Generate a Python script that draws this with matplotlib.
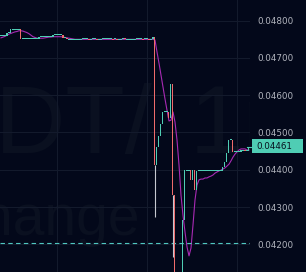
import matplotlib
matplotlib.use('Agg')
import matplotlib.pyplot as plt
from matplotlib.patches import Rectangle

# candle closes, open of each candle = previous close
first_open = 0.04759
closes = [
    0.04759, 0.04759, 0.04759, 0.04767, 0.04767, 0.04777, 0.04777, 0.04777, 0.04777, 0.04777,
    0.04752, 0.04752, 0.04752, 0.04752, 0.04752, 0.04752, 0.04752, 0.04752, 0.04752, 0.04757,
    0.04757, 0.04757, 0.04757, 0.04757, 0.04757, 0.04757, 0.04762, 0.04762, 0.04762, 0.04762,
    0.04762, 0.04754, 0.04754, 0.04750, 0.04750, 0.04750, 0.04750, 0.04750, 0.04750, 0.04750,
    0.04750, 0.04752, 0.04752, 0.04752, 0.04750, 0.04750, 0.04752, 0.04752, 0.04750, 0.04750,
    0.04750, 0.04752, 0.04752, 0.04752, 0.04752, 0.04752, 0.04750, 0.04752, 0.04750, 0.04750,
    0.04750, 0.04753, 0.04750, 0.04750, 0.04750, 0.04750, 0.04750, 0.04750, 0.04752, 0.04752,
    0.04752, 0.04750, 0.04752, 0.04752, 0.04750, 0.04750, 0.04755, 0.04413, 0.04461, 0.04490,
    0.04524, 0.04555, 0.04555, 0.04555, 0.04539, 0.04630, 0.04332, 0.04060, 0.04030, 0.04045,
    0.04080, 0.04265, 0.04399, 0.04399, 0.04399, 0.04373, 0.04399, 0.04346, 0.04398, 0.04398,
    0.04398, 0.04398, 0.04398, 0.04398, 0.04398, 0.04398, 0.04398, 0.04398, 0.04398, 0.04398,
    0.04398, 0.04407, 0.04420, 0.04445, 0.04480, 0.04480, 0.04448, 0.04448, 0.04448, 0.04448,
    0.04453, 0.04453, 0.04451, 0.04451, 0.04461,
]
wick_lows = {77: 0.04273, 86: 0.04166}

ma_values = [
    0.04754, 0.04756, 0.04758, 0.04761, 0.04764, 0.04766, 0.04768, 0.04770, 0.04771, 0.04773,
    0.04773, 0.04772, 0.04770, 0.04768, 0.04765, 0.04761, 0.04757, 0.04755, 0.04753, 0.04753,
    0.04753, 0.04753, 0.04754, 0.04755, 0.04756, 0.04756, 0.04757, 0.04757, 0.04757, 0.04757,
    0.04757, 0.04756, 0.04755, 0.04754, 0.04753, 0.04752, 0.04751, 0.04750, 0.04750, 0.04750,
    0.04750, 0.04750, 0.04750, 0.04750, 0.04750, 0.04750, 0.04750, 0.04750, 0.04750, 0.04750,
    0.04750, 0.04750, 0.04750, 0.04750, 0.04750, 0.04750, 0.04750, 0.04750, 0.04750, 0.04750,
    0.04750, 0.04750, 0.04750, 0.04750, 0.04750, 0.04750, 0.04750, 0.04750, 0.04750, 0.04750,
    0.04750, 0.04750, 0.04750, 0.04750, 0.04750, 0.04750, 0.04750, 0.04748, 0.04716, 0.04686,
    0.04654, 0.04622, 0.04590, 0.04560, 0.04531, 0.04533, 0.04555, 0.04528, 0.04480, 0.04413,
    0.04332, 0.04278, 0.04233, 0.04193, 0.04169, 0.04190, 0.04252, 0.04319, 0.04359, 0.04373,
    0.04375, 0.04375, 0.04378, 0.04378, 0.04381, 0.04383, 0.04386, 0.04391, 0.04394, 0.04397,
    0.04399, 0.04402, 0.04405, 0.04410, 0.04415, 0.04424, 0.04434, 0.04442, 0.04448, 0.04453,
    0.04456, 0.04456, 0.04456, 0.04453, 0.04453,
]

ref_price = 0.04203
last_price = 0.04461
price_ticks = [0.042, 0.043, 0.044, 0.045, 0.046, 0.047, 0.048]
time_grid = [28, 73, 118]
watermark_pair = 'USDT/'
watermark_tf = '1m'
watermark_ex = 'Exchange'

bg = '#03081a'
grid_c = '#131a2c'
wm_c = '#0a1020'
up_c = '#4fcdb4'
down_c = '#ef6b6b'
ma_c = '#a82ab4'
wick_c = '#c5c8d0'
label_c = '#b2b5be'

ymin, ymax = 0.041257, 0.048555
px = (ymax - ymin) / 272

fig = plt.figure(figsize=(3.06, 2.72), dpi=100, facecolor=bg)
ax = fig.add_axes([0, 0, 250 / 306, 1])
ax.set_facecolor(bg)

n = len(closes)
xs = list(range(n))
opens = [first_open] + closes[:-1]
colors = [up_c if c >= o else down_c for o, c in zip(opens, closes)]
heights = [max(abs(c - o), px) for o, c in zip(opens, closes)]
bottoms = [min(o, c) if abs(c - o) >= px else c - px / 2 for o, c in zip(opens, closes)]
# tall bodies drawn one pixel wide, flat ones fill the slot so they join up
tall = [hh > 3 * px for hh in heights]
bar_x = [x - 0.25 if t else x for x, t in zip(xs, tall)]
bar_w = [0.5 if t else 1.0 for t in tall]

ax.plot(xs, ma_values, color=ma_c, lw=0.8, zorder=2)
for i, lo in wick_lows.items():
    ax.vlines(i - 0.25, lo, min(opens[i], closes[i]), color=wick_c, lw=0.8, zorder=2.5)
ax.bar(bar_x, heights, bottom=bottoms, width=bar_w, color=colors, linewidth=0, zorder=3)

ax.axhline(ref_price, color='#4fc7c0', lw=0.8, dashes=(4, 3), zorder=2)

# faint watermark, clipped to the pane
for x, y, s, fs, ha in [(-0.559, 0.4375, watermark_pair, 70, 'left'),
                        (0.758, 0.4375, watermark_tf, 70, 'left'),
                        (0.558, 0.136, watermark_ex, 41, 'right')]:
    ax.text(x, y, s, transform=ax.transAxes, fontsize=fs, family='Liberation Sans',
            color=wm_c, va='baseline', ha=ha, zorder=0.1, clip_on=True)

ax.set_xlim(-0.5, n - 0.5)
ax.set_ylim(ymin, ymax)
ax.set_xticks(time_grid)
ax.set_yticks(price_ticks)
ax.set_yticklabels(['%.5f' % p for p in price_ticks])
ax.yaxis.tick_right()
ax.tick_params(axis='y', length=0, pad=5, labelsize=6.3, labelcolor=label_c)
ax.tick_params(axis='x', length=0, labelbottom=False)
ax.grid(color=grid_c, lw=0.8)
ax.set_axisbelow(True)
for s in ax.spines.values():
    s.set_visible(False)

# last price tag
tr = ax.get_yaxis_transform()
h = 14.3 * px
ax.add_patch(Rectangle((1.0068, last_price - h / 2 + px), 0.2064, h, transform=tr,
                       clip_on=False, fc=up_c, ec='none', zorder=5))
ax.plot([0.987, 1.0068], [last_price, last_price], transform=tr, clip_on=False,
        color=up_c, lw=0.8, zorder=5)
ax.text(1.0268, last_price + px, '%.5f' % last_price, transform=tr, fontsize=6.3,
        color='#07101e', va='center', ha='left', zorder=6)

fig.savefig('out.png', dpi=100, facecolor=bg)
